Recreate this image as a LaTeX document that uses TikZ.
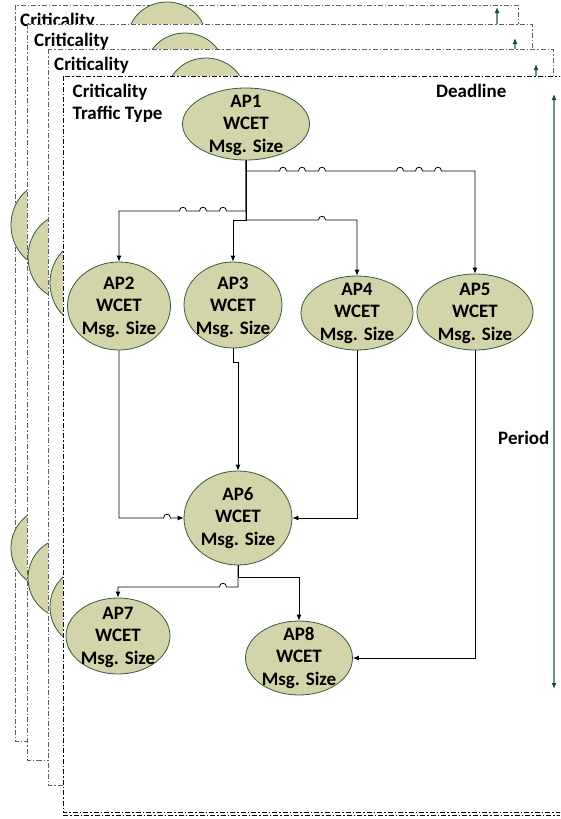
\documentclass[tikz,border=0pt]{standalone}
\usepackage{fontspec}
\setmainfont{Carlito}
\usetikzlibrary{arrows.meta,shapes.geometric}

\definecolor{apfill}{RGB}{212,212,170}
\definecolor{apborder}{RGB}{52,92,62}
\definecolor{perline}{RGB}{110,150,125}
\definecolor{pertip}{RGB}{25,75,40}
\definecolor{framegray}{RGB}{95,95,95}

% line hops (small bumps where a connector jumps over another line)
\newcommand\hopR[2]{-- ({#1-3.5},#2) .. controls ({#1-3.5},{#2-5}) and ({#1+3.5},{#2-5}) .. ({#1+3.5},#2)}
\newcommand\hopL[2]{-- ({#1+3.5},#2) .. controls ({#1+3.5},{#2-5}) and ({#1-3.5},{#2-5}) .. ({#1-3.5},#2)}

\tikzset{
  pageframe/.style={draw=framegray, fill=white, line width=0.7pt,
    dash pattern=on 5pt off 2pt on 1.5pt off 2pt},
  frontframe/.style={draw=black, fill=white, line width=0.6pt,
    dash pattern=on 5pt off 2pt on 1.5pt off 2pt},
  apnode/.style={ellipse, draw=apborder, fill=apfill, line width=0.8pt, inner sep=0pt},
  aptext/.style={align=center, font=\bfseries\fontsize{19}{22.5}\selectfont, inner sep=0pt},
  lbl/.style={font=\bfseries\fontsize{19}{22}\selectfont, inner sep=0pt, anchor=base west},
  conn/.style={draw=black, line width=0.8pt, -{Latex[length=6pt,width=5pt]}},
  perarrow/.style={draw=perline, line width=1.2pt},
  pertipstyle/.style={-{Latex[length=6pt,width=5pt,color=pertip]}},
}

\begin{document}
\begin{tikzpicture}[x=1pt,y=-1pt]
\clip (0,0) rectangle (560,819);
\fill[white] (0,0) rectangle (560,819);

% ---------- page 1 (back) ----------
\draw[pageframe] (15,5) rectangle (518,741);
\node[lbl] (p1crit) at (20,26) {Criticality};
\node[apnode, minimum width=78pt, minimum height=72pt] (p1a) at (167,38) {};
\node[apnode, minimum width=78pt, minimum height=86pt] (p1b) at (50,225) {};
\node[apnode, minimum width=78pt, minimum height=80pt] (p1c) at (50,548) {};
\coordinate (p1top) at (497,7);
\coordinate (p1bot) at (497,700);
\draw[perarrow, pertipstyle] (p1bot) -- (p1top);

% ---------- page 2 ----------
\draw[pageframe, line width=0.9pt] (27,24) rectangle (532,760);
\node[lbl] (p2crit) at (34,46) {Criticality};
\node[apnode, minimum width=78pt, minimum height=72pt] (p2a) at (185,69) {};
\node[apnode, minimum width=78pt, minimum height=86pt] (p2b) at (67,257) {};
\node[apnode, minimum width=78pt, minimum height=80pt] (p2c) at (67,578) {};
\coordinate (p2top) at (515,38);
\coordinate (p2bot) at (515,720);
\draw[perarrow, pertipstyle] (p2bot) -- (p2top);

% ---------- page 3 ----------
\draw[pageframe] (48,49) rectangle (553,785);
\node[lbl] (p3crit) at (54,70) {Criticality};
\node[apnode, minimum width=78pt, minimum height=72pt] (p3a) at (206,94) {};
\node[apnode, minimum width=78pt, minimum height=86pt] (p3b) at (89,283) {};
\node[apnode, minimum width=78pt, minimum height=80pt] (p3c) at (89,607) {};
\coordinate (p3top) at (536,64);
\coordinate (p3bot) at (536,740);
\draw[perarrow, pertipstyle] (p3bot) -- (p3top);

% ---------- front page ----------
\draw[frontframe] (63,76) rectangle (580,812);
\draw[frontframe, fill=none] (63,815.5) -- (560,815.5);

\node[lbl] (crit) at (72.5,97) {Criticality};
\node[lbl] (traffic) at (72.5,119) {Traffic Type};
\node[lbl] (deadline) at (436,97) {Deadline};
\node[lbl] (period) at (498,444) {Period};

% application nodes
\node[apnode, minimum width=127pt, minimum height=72pt] (ap1) at (246,124) {};
\node[apnode, minimum width=103pt, minimum height=88pt] (ap2) at (119,306) {};
\node[apnode, minimum width=98pt,  minimum height=86pt] (ap3) at (233,305) {};
\node[apnode, minimum width=112pt, minimum height=74pt] (ap4) at (357,313) {};
\node[apnode, minimum width=116pt, minimum height=76pt] (ap5) at (475,312) {};
\node[apnode, minimum width=108pt, minimum height=94pt] (ap6) at (238,518) {};
\node[apnode, minimum width=104pt, minimum height=76pt] (ap7) at (118,636) {};
\node[apnode, minimum width=107pt, minimum height=74pt] (ap8) at (299,658) {};

\node[aptext] (ap1t) at (246,125) {AP1\\WCET\\Msg. Size};
\node[aptext] (ap2t) at (119,307) {AP2\\WCET\\Msg. Size};
\node[aptext] (ap3t) at (233,307) {AP3\\WCET\\Msg. Size};
\node[aptext] (ap4t) at (357,313) {AP4\\WCET\\Msg. Size};
\node[aptext] (ap5t) at (475,313) {AP5\\WCET\\Msg. Size};
\node[aptext] (ap6t) at (238,518) {AP6\\WCET\\Msg. Size};
\node[aptext] (ap7t) at (118,637) {AP7\\WCET\\Msg. Size};
\node[aptext] (ap8t) at (299,658) {AP8\\WCET\\Msg. Size};

% connectors
\draw[conn] (ap1.south) -- (246,171)
  \hopR{283}{171} \hopR{302}{171} \hopR{322}{171}
  \hopR{400}{171} \hopR{419}{171} \hopR{438}{171}
  -- (475,171) -- (ap5.north);
\draw[conn] (ap1.south) -- (246,211)
  \hopL{223}{211} \hopL{203}{211} \hopL{183}{211}
  -- (119,211) -- (ap2.north);
\draw[conn] (ap1.south) -- (246,220) -- (233,220) -- (ap3.north);
\draw[conn] (ap1.south) -- (246,220) \hopR{322}{220} -- (357,220) -- (ap4.north);
\draw[conn] (ap2.south) -- (119,518) \hopR{167}{518} -- (ap6.west);
\draw[conn] (ap3.south) -- (233,362) -- (238,362) -- (ap6.north);
\draw[conn] (ap4.south) -- (357,518) -- (ap6.east);
\draw[conn] (ap6.south) -- (238,577) -- (299,577) -- (ap8.north);
\draw[conn] (ap6.south) -- (238,587) \hopL{223}{587} -- (118,587) -- (ap7.north);
\draw[conn] (ap5.south) -- (475,658) -- (ap8.east);

% period arrow
\coordinate (pertop) at (554,94);
\coordinate (perbot) at (554,689);
\draw[perarrow, {Latex[length=6pt,width=5pt,color=pertip]}-{Latex[length=6pt,width=5pt,color=pertip]}] (perbot) -- (pertop);
\end{tikzpicture}
\end{document}
